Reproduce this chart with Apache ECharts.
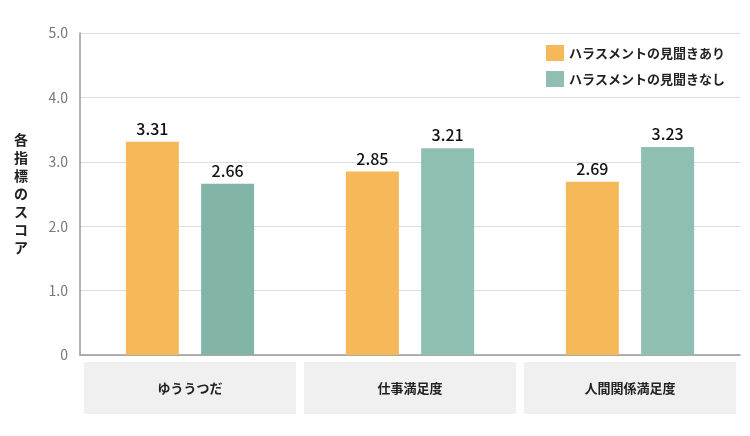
<!DOCTYPE html>
<html lang="ja">
  <head>
    <meta charset="UTF-8" />
    <title>Chart</title>
    <script src="https://cdn.jsdelivr.net/npm/echarts@6/dist/echarts.min.js"></script>
    <style>
      body { margin: 0; background: #fff; }
      #main { width: 750px; height: 436px; }
    </style>
  </head>
  <body>
    <div id="main"></div>
    <script>
      var categories = ["ゆううつだ", "仕事満足度", "人間関係満足度"];
      var withHarass = [3.31, 2.85, 2.69];
      var withoutHarass = [2.66, 3.21, 3.23];
      var seriesNames = ["ハラスメントの見聞きあり", "ハラスメントの見聞きなし"];
      var yTitle = "各指標のスコア";

      var font = "'Noto Sans CJK JP', sans-serif";
      var myChart = echarts.init(document.getElementById("main"));
      var label = {
        show: true,
        position: "top",
        distance: 5,
        color: "#111",
        fontSize: 16,
        fontWeight: 500,
        fontFamily: font,
        formatter: function (p) { return p.value.toFixed(2); },
      };
      var option = {
        animation: false,
        legend: {
          orient: "vertical",
          right: 20,
          top: 40,
          itemWidth: 18,
          itemHeight: 16,
          itemGap: 10,
          icon: "rect",
          textStyle: { fontSize: 13, fontWeight: "bold", color: "#222", fontFamily: font },
        },
        grid: { left: 80, right: 10, top: 33, bottom: 81, containLabel: false, outerBoundsMode: "none" },
        xAxis: {
          type: "category",
          data: categories,
          axisLine: { lineStyle: { color: "#999", width: 1.5 } },
          axisTick: { show: false },
          axisLabel: {
            interval: 0,
            margin: 7,
            width: 212,
            height: 52,
            lineHeight: 52,
            align: "center",
            backgroundColor: "#f0f0f0",
            color: "#222",
            fontSize: 13,
            fontWeight: "bold",
            fontFamily: font,
          },
        },
        yAxis: {
          type: "value",
          min: 0,
          max: 5,
          interval: 1,
          name: yTitle.split("").join("\n"),
          nameLocation: "middle",
          nameGap: 52,
          nameRotate: 0,
          nameTextStyle: {
            fontSize: 14,
            fontWeight: "bold",
            color: "#222",
            fontFamily: font,
            lineHeight: 18,
          },
          axisLine: { show: true, lineStyle: { color: "#999", width: 1.5 } },
          splitLine: { lineStyle: { color: "#ddd" } },
          axisLabel: {
            color: "#777",
            fontSize: 14,
            margin: 12,
            fontFamily: font,
            formatter: function (v) { return v === 0 ? "0" : v.toFixed(1); },
          },
        },
        series: [
          {
            name: seriesNames[0],
            type: "bar",
            data: withHarass,
            barWidth: 53,
            barGap: "42%",
            itemStyle: { color: "#f5b95a" },
            label: label,
          },
          {
            name: seriesNames[1],
            type: "bar",
            data: withoutHarass.map(function (v, i) {
              return i === 0 ? { value: v, itemStyle: { color: "#82b5a8" } } : v;
            }),
            barWidth: 53,
            itemStyle: { color: "#8fbfb3" },
            label: label,
          },
        ],
      };
      myChart.setOption(option);
    </script>
  </body>
</html>
